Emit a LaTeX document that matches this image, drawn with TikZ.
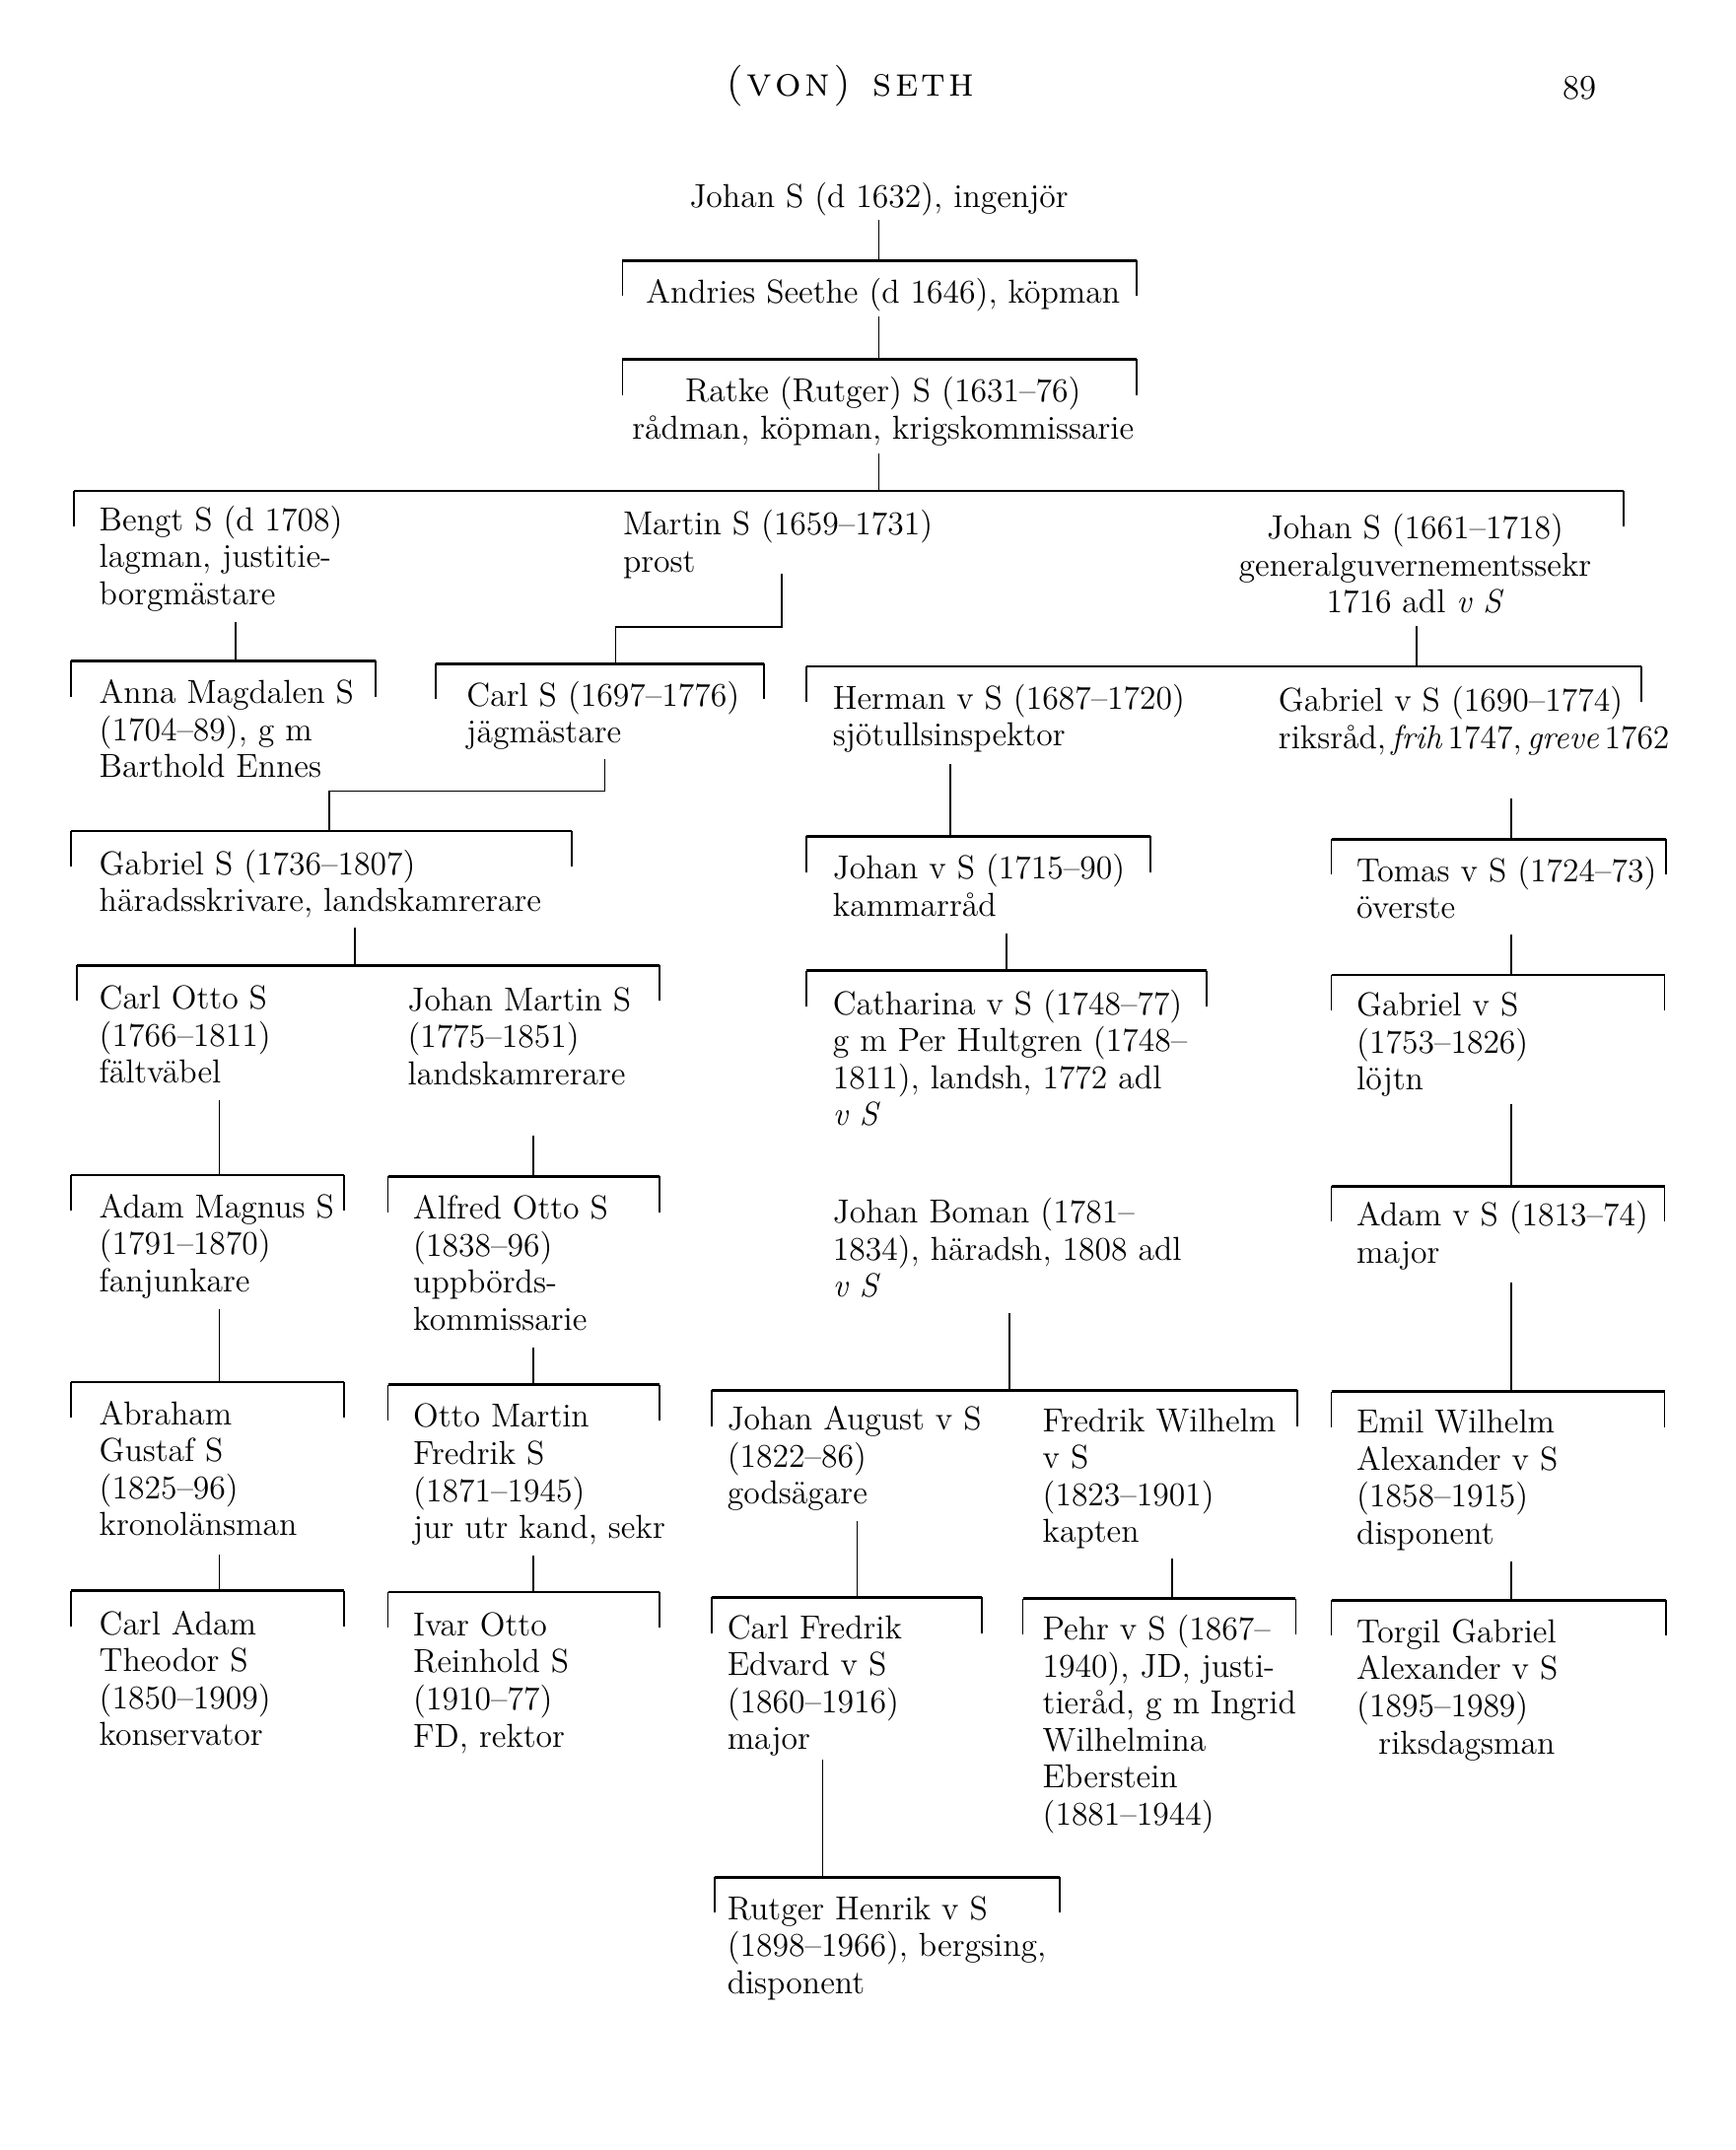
\documentclass[tikz,border=0pt]{standalone}
\usepackage{tikz}
\usetikzlibrary{positioning}
\tikzstyle{person} = [anchor=base west, inner sep=0pt, font=\fontsize{12.1}{13.5}\selectfont]
\tikzstyle{cperson} = [anchor=base, inner sep=0pt, font=\fontsize{12.1}{13.5}\selectfont]
\tikzstyle{sibbar} = [line width=1pt]
\tikzstyle{sibtick} = [line width=0.6pt]
\tikzstyle{stem} = [line width=0.6pt]
\newcommand{\lns}[1]{\begin{tabular}[t]{@{}l@{}}#1\end{tabular}}
\newcommand{\clns}[1]{\begin{tabular}[t]{@{}c@{}}#1\end{tabular}}
% junction name, junction x, left x, right x, bar y
\newcommand{\sibset}[5]{%
  \coordinate (#1) at (#2,#5);
  \draw[sibtick] (#3,#5) -- ++(0,26);
  \draw[sibtick] (#4,#5) -- ++(0,26);
  \draw[sibbar] (#3,#5) -- (#4,#5);}
% parent, junction, gap
\newcommand{\kinline}[3]{\draw[stem] (#1.south -| #2) ++(0,#3) -- (#2);}

\begin{document}
\begin{tikzpicture}[x=0.5pt, y=-0.5pt]
\useasboundingbox (0,0) rectangle (1266,1568);

% header
\node[anchor=base, inner sep=0pt, font=\fontsize{15}{17}\selectfont] (title) at (620,70) {\textsc{(\kern1.2pt v\kern1.2pt o\kern1.2pt n\kern1.2pt)\hspace{8pt}s\kern1.2pt e\kern1.2pt t\kern1.2pt h}};
\node[anchor=base, inner sep=0pt, font=\fontsize{12.5}{14}\selectfont] (page) at (1152,72) {89};

% first generations
\node[cperson] (johanA) at (641,151) {Johan S (d 1632), ingenjör};
\node[cperson] (andries) at (644,221) {Andries Seethe (d 1646), köpman};
\node[cperson] (ratke) at (644,293) {\clns{Ratke (Rutger) S (1631--76)\\ rådman, köpman, krigskommissarie}};

\sibset{jAndries}{641}{454}{829}{190}
\sibset{jRatke}{641}{454}{829}{262}
\sibset{jRatkeKids}{641}{54}{1184}{358}
\kinline{johanA}{jAndries}{3}
\kinline{andries}{jRatke}{3}
\kinline{ratke}{jRatkeKids}{2}

\node[person] (bengt) at (72,387) {\lns{Bengt S (d 1708)\\ lagman, justitie-\\ borgmästare}};
\node[person] (martin) at (454,390) {\lns{Martin S (1659--1731)\\ prost}};
\node[cperson] (johanB) at (1032,393) {\clns{Johan S (1661--1718)\\ generalguvernementssekr\\ 1716 adl \textit{v S}}};

% Bengt and Martin
\sibset{jBengt}{172}{52}{274}{482}
\kinline{bengt}{jBengt}{4}
\node[person] (anna) at (72,513) {\lns{Anna Magdalen S\\ (1704--89), g m\\ Barthold Ennes}};

\coordinate (eMartin) at (570,457);
\sibset{jMartin}{449}{318}{557}{484}
\draw[stem] (martin.south -| eMartin) ++(0,-7) -- (eMartin) -| (jMartin);
\node[person] (carl) at (340,515) {\lns{Carl S (1697--1776)\\ jägmästare}};

\coordinate (eCarl) at (441,577);
\sibset{jCarl}{240}{52}{417}{606}
\draw[stem] (carl.south -| eCarl) ++(0,3) -- (eCarl) -| (jCarl);
\node[person] (gabrielA) at (72,638) {\lns{Gabriel S (1736--1807)\\ häradsskrivare, landskamrerare}};

\sibset{jGabrielA}{259}{56}{481}{704}
\kinline{gabrielA}{jGabrielA}{3}
\node[person] (carlotto) at (72,736) {\lns{Carl Otto S\\ (1766--1811)\\ fältväbel}};
\node[person] (johanmartin) at (297,737) {\lns{Johan Martin S\\ (1775--1851)\\ landskamrerare}};

% Carl Otto line
\sibset{jCarlotto}{160}{52}{251}{857}
\kinline{carlotto}{jCarlotto}{4}
\node[person] (adammagnus) at (72,888) {\lns{Adam Magnus S\\ (1791--1870)\\ fanjunkare}};
\sibset{jAdammagnus}{160}{52}{251}{1008}
\kinline{adammagnus}{jAdammagnus}{4}
\node[person] (abraham) at (72,1039) {\lns{Abraham\\ Gustaf S\\ (1825--96)\\ kronolänsman}};
\sibset{jAbraham}{160}{52}{251}{1160}
\kinline{abraham}{jAbraham}{5}
\node[person] (carladam) at (72,1192) {\lns{Carl Adam\\ Theodor S\\ (1850--1909)\\ konservator}};

% Johan Martin line
\sibset{jJohanmartin}{389}{283}{481}{858}
\kinline{johanmartin}{jJohanmartin}{29}
\node[person] (alfred) at (301,889) {\lns{Alfred Otto S\\ (1838--96)\\ uppbörds-\\ kommissarie}};
\sibset{jAlfred}{389}{283}{481}{1010}
\kinline{alfred}{jAlfred}{4}
\node[person] (ottomartin) at (301,1041) {\lns{Otto Martin\\ Fredrik S\\ (1871--1945)\\ jur utr kand, sekr}};
\sibset{jOttomartin}{389}{283}{481}{1161}
\kinline{ottomartin}{jOttomartin}{4}
\node[person] (ivar) at (301,1193) {\lns{Ivar Otto\\ Reinhold S\\ (1910--77)\\ FD, rektor}};

% Johan S (1661-1718)
\sibset{jJohanB}{1033}{588}{1197}{486}
\kinline{johanB}{jJohanB}{1}
\node[person] (herman) at (607,517) {\lns{Herman v S (1687--1720)\\ sjötullsinspektor}};
\node[person] (gabrielB) at (932,519) {\lns{Gabriel v S (1690--1774)\\ {\spaceskip=0.16em plus 0.05em\relax riksråd, \textit{frih} 1747, \textit{greve} 1762}}};

% Herman line
\sibset{jHerman}{693}{588}{839}{610}
\kinline{herman}{jHerman}{5}
\node[person] (johanC) at (607,641) {\lns{Johan v S (1715--90)\\ kammarråd}};
\sibset{jJohanC}{734}{588}{880}{708}
\kinline{johanC}{jJohanC}{4}
\node[person] (catharina) at (607,740) {\lns{Catharina v S (1748--77)\\ g m Per Hultgren (1748--\\ 1811), landsh, 1772 adl\\ \textit{v S}}};
\node[person] (boman) at (607,892) {\lns{Johan Boman (1781--\\ 1834), häradsh, 1808 adl\\ \textit{v S}}};

\sibset{jBoman}{736}{519}{946}{1014}
\kinline{boman}{jBoman}{3}
\node[person] (johanaugust) at (530,1043) {\lns{Johan August v S\\ (1822--86)\\ godsägare}};
\node[person] (fredrik) at (760,1044) {\lns{Fredrik Wilhelm\\ v S\\ (1823--1901)\\ kapten}};

\sibset{jJohanaugust}{625}{519}{716}{1165}
\kinline{johanaugust}{jJohanaugust}{4}
\node[person] (carlfredrik) at (530,1195) {\lns{Carl Fredrik\\ Edvard v S\\ (1860--1916)\\ major}};
\sibset{jCarlfredrik}{600}{521}{773}{1369}
\kinline{carlfredrik}{jCarlfredrik}{-1}
\node[person] (rutger) at (530,1400) {\lns{Rutger Henrik v S\\ (1898--1966), bergsing,\\ disponent}};

\sibset{jFredrik}{855}{746}{945}{1166}
\kinline{fredrik}{jFredrik}{3}
\node[person] (pehr) at (760,1196) {\lns{Pehr v S (1867--\\ 1940), JD, justi-\\ tieråd, g m Ingrid\\ Wilhelmina\\ Eberstein\\ (1881--1944)}};

% Gabriel v S line
\sibset{jGabrielB}{1102}{971}{1215}{612}
\kinline{gabrielB}{jGabrielB}{28}
\node[person] (tomas) at (989,643) {\lns{Tomas v S (1724--73)\\ överste}};
\sibset{jTomas}{1102}{971}{1214}{711}
\kinline{tomas}{jTomas}{3}
\node[person] (gabrielC) at (989,741) {\lns{Gabriel v S\\ (1753--1826)\\ löjtn}};
\sibset{jGabrielC}{1102}{971}{1214}{865}
\kinline{gabrielC}{jGabrielC}{2}
\node[person] (adam) at (989,894) {\lns{Adam v S (1813--74)\\ major}};
\sibset{jAdam}{1102}{971}{1214}{1015}
\kinline{adam}{jAdam}{6}
\node[person] (emil) at (989,1045) {\lns{Emil Wilhelm\\ Alexander v S\\ (1858--1915)\\ disponent}};
\sibset{jEmil}{1102}{971}{1215}{1167}
\kinline{emil}{jEmil}{4}
\node[person] (torgil) at (989,1198) {\lns{Torgil Gabriel\\ Alexander v S\\ (1895--1989)\\ \hspace*{8pt}riksdagsman}};
\end{tikzpicture}
\end{document}
